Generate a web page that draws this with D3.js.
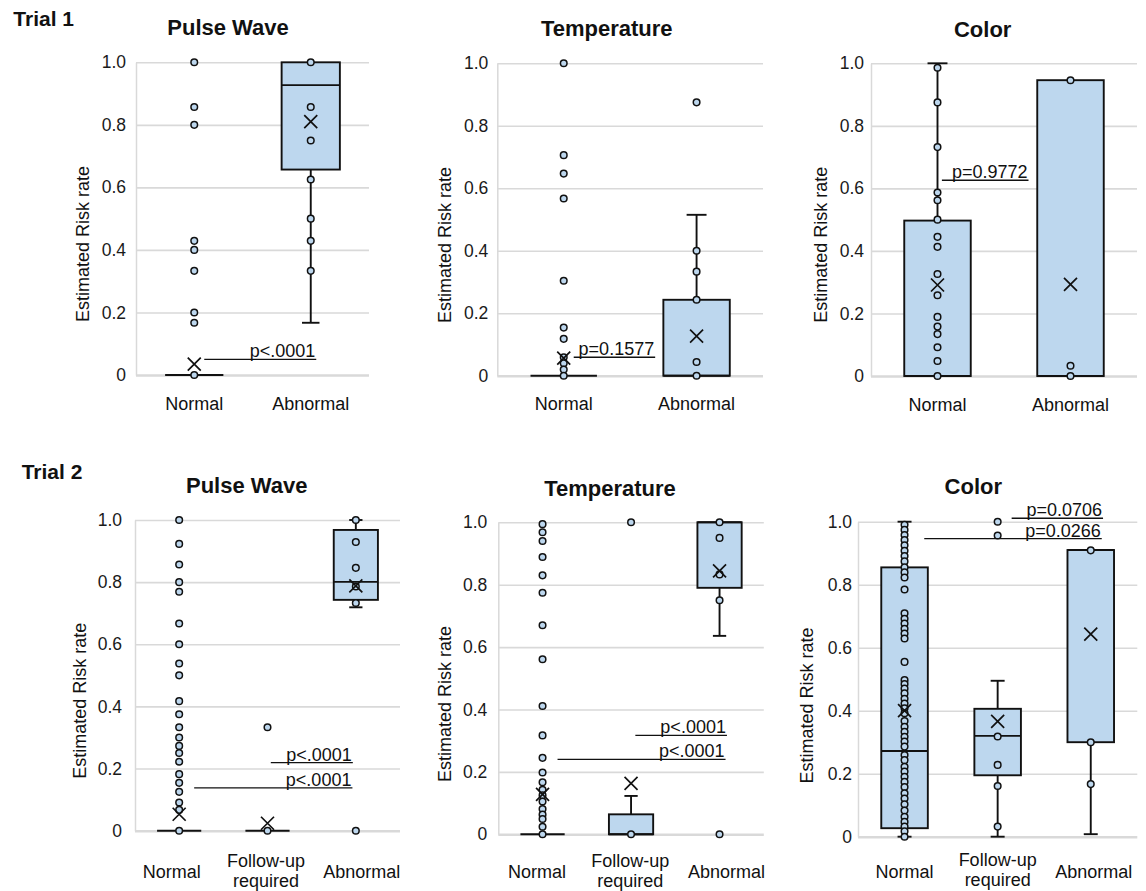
<!DOCTYPE html>
<html><head><meta charset="utf-8">
<script src="https://cdn.jsdelivr.net/npm/d3@7"></script>
<style>
html,body{margin:0;padding:0;background:#fff;}
svg{display:block;font-family:"Liberation Sans",Arial,Helvetica,sans-serif;}
</style></head><body>
<svg id="chart" width="1146" height="891"></svg>
<script>
// ---------- DATA ----------
const trialLabels = ["Trial 1", "Trial 2"];
const panelTitles = ["Pulse Wave", "Temperature", "Color"];
const categoriesTrial1 = ["Normal", "Abnormal"];
const categoriesTrial2 = ["Normal", "Follow-up required", "Abnormal"];
const tickValues = [0, 0.2, 0.4, 0.6, 0.8, 1.0];
const tickLabels = ["0", "0.2", "0.4", "0.6", "0.8", "1.0"];
const yAxisTitle = "Estimated Risk rate";

// individual observations
const t1PulseNormal = [1.0, 0.857, 0.8, 0.429, 0.4, 0.333, 0.2, 0.167, 0];
const t1PulseAbnormal = [1.0, 0.857, 0.75, 0.625, 0.5, 0.429, 0.333];
const t1TempNormal = [1.0, 0.706, 0.647, 0.567, 0.304, 0.154, 0.118, 0.059, 0.04, 0.02, 0];
const t1TempAbnormal = [0.875, 0.4, 0.333, 0.243, 0.044, 0];
const t1ColorNormal = [0.986, 0.875, 0.732, 0.587, 0.562, 0.5, 0.445, 0.413, 0.326, 0.258, 0.189, 0.158, 0.134, 0.092, 0.048, 0];
const t1ColorAbnormal = [0.946, 0.033, 0];

const t2PulseNormal = [1.0, 0.923, 0.857, 0.8, 0.769, 0.667, 0.6, 0.538, 0.5, 0.417, 0.375, 0.333, 0.3, 0.273, 0.25, 0.222, 0.182, 0.154, 0.125, 0.091, 0.067, 0];
const t2PulseFollow = [0.333, 0];
const t2PulseAbnormal = [1.0, 0.929, 0.846, 0.786, 0.733, 0];
const t2TempNormal = [0.994, 0.968, 0.94, 0.889, 0.83, 0.774, 0.67, 0.561, 0.411, 0.317, 0.245, 0.198, 0.167, 0.143, 0.125, 0.105, 0.081, 0.063, 0.049, 0.024, 0];
const t2TempFollow = [1.0, 0];
const t2TempAbnormal = [1.0, 0.95, 0.833, 0.75, 0];
const t2ColorNormal = [0.99, 0.974, 0.958, 0.942, 0.925, 0.908, 0.891, 0.874, 0.855, 0.839, 0.823, 0.785, 0.709, 0.692, 0.677, 0.66, 0.645, 0.629, 0.555, 0.497, 0.485, 0.47, 0.455, 0.438, 0.423, 0.408, 0.392, 0.367, 0.349, 0.333, 0.317, 0.302, 0.286, 0.259, 0.243, 0.222, 0.207, 0.19, 0.174, 0.158, 0.138, 0.121, 0.103, 0.083, 0.063, 0.047, 0.032, 0.017, 0];
const t2ColorFollow = [1.0, 0.956, 0.318, 0.228, 0.161, 0.032];
const t2ColorAbnormal = [0.909, 0.3, 0.167];

// box statistics: [q1, median, q3, whiskerLow, whiskerHigh, mean]
const t1PulseStats = [[0, 0, 0, 0, 0, 0.035], [0.657, 0.927, 1.0, 0.167, 1.0, 0.81]];
const t1TempStats = [[0, 0, 0, 0, 0, 0.056], [0, 0, 0.243, 0, 0.515, 0.127]];
const t1ColorStats = [[0, 0, 0.497, 0, 1.0, 0.291], [0, 0, 0.946, 0, 0.946, 0.293]];
const t2PulseStats = [[0, 0, 0, 0, 0, 0.053], [0, 0, 0, 0, 0, 0.024], [0.743, 0.801, 0.968, 0.719, 1.0, 0.788]];
const t2TempStats = [[0, 0, 0, 0, 0, 0.128], [0, 0, 0.064, 0, 0.123, 0.163], [0.79, 1.0, 1.0, 0.636, 1.0, 0.844]];
const t2ColorStats = [[0.027, 0.272, 0.855, 0, 1.0, 0.4], [0.195, 0.32, 0.406, 0, 0.495, 0.366], [0.3, 0.91, 0.91, 0.008, 0.91, 0.643]];

// p-value annotations
const t1PulseP = [{from: "Normal", to: "Abnormal", value: 0.05, label: "p<.0001"}];
const t1TempP = [{from: "Normal", to: "Abnormal", value: 0.059, label: "p=0.1577"}];
const t1ColorP = [{from: "Normal", to: "Abnormal", value: 0.626, label: "p=0.9772"}];
const t2PulseP = [{from: "Follow-up required", to: "Abnormal", value: 0.219, label: "p<.0001"},
                  {from: "Normal", to: "Abnormal", value: 0.138, label: "p<.0001"}];
const t2TempP = [{from: "Follow-up required", to: "Abnormal", value: 0.317, label: "p<.0001"},
                 {from: "Normal", to: "Abnormal", value: 0.24, label: "p<.0001"}];
const t2ColorP = [{from: "Follow-up required", to: "Abnormal", value: 1.011, label: "p=0.0706"},
                  {from: "Normal", to: "Abnormal", value: 0.946, label: "p=0.0266"}];

const panelsData = [
  {title: 0, cats: categoriesTrial1, points: [t1PulseNormal, t1PulseAbnormal], stats: t1PulseStats, ann: t1PulseP},
  {title: 1, cats: categoriesTrial1, points: [t1TempNormal, t1TempAbnormal], stats: t1TempStats, ann: t1TempP},
  {title: 2, cats: categoriesTrial1, points: [t1ColorNormal, t1ColorAbnormal], stats: t1ColorStats, ann: t1ColorP},
  {title: 0, cats: categoriesTrial2, points: [t2PulseNormal, t2PulseFollow, t2PulseAbnormal], stats: t2PulseStats, ann: t2PulseP},
  {title: 1, cats: categoriesTrial2, points: [t2TempNormal, t2TempFollow, t2TempAbnormal], stats: t2TempStats, ann: t2TempP},
  {title: 2, cats: categoriesTrial2, points: [t2ColorNormal, t2ColorFollow, t2ColorAbnormal], stats: t2ColorStats, ann: t2ColorP}
];

// ---------- LAYOUT ----------
const layout = [
  {x0:136, x1:369, yT:62.3, yB:375, tickGap:10, titleX:228, titleY:35, axX:89, axY:244, catY:409.5, labelDx:[0,0], annDx:[[10,5.5]]},
  {x0:497.3, x1:763, yT:63.3, yB:375.7, tickGap:9, titleX:606.7, titleY:36, axX:451, axY:245, catY:409.5, labelDx:[0,0], annDx:[[10,-41.4]]},
  {x0:871, x1:1137, yT:63.3, yB:376, tickGap:7, titleX:982.7, titleY:37, axX:826.7, axY:244.7, catY:410.7, labelDx:[0,0], annDx:[[4.4,-42]]},
  {x0:135, x1:400, yT:520, yB:830.7, tickGap:13, titleX:246.7, titleY:492.7, axX:86, axY:700.8, catY:878.3, labelDx:[-7.5,-1.5,6], annDx:[[3.3,-3],[15,-3.4]]},
  {x0:498.3, x1:763.8, yT:522.3, yB:834.3, tickGap:11, titleX:610, titleY:496, axX:451, axY:704, catY:878.3, labelDx:[-5.6,-0.7,7], annDx:[[4.3,7.4],[15,6]]},
  {x0:858, x1:1137.3, yT:521.7, yB:836.7, tickGap:6, titleX:973.3, titleY:494.3, axX:812.7, axY:705.5, catY:877.5, labelDx:[0,0,3], annDx:[[14,12.3],[19.7,11]]}
];
const trialPos = [{x:13.3, y:26}, {x:21.7, y:479.3}];

const FILL = "#bdd7ee", INK = "#111", GRID = "#d9d9d9";
const svg = d3.select("#chart");

trialLabels.forEach((t, i) => {
  svg.append("text").attr("x", trialPos[i].x).attr("y", trialPos[i].y)
    .attr("font-size", 21).attr("font-weight", "bold").attr("fill", INK).text(t);
});

panelsData.forEach((p, i) => {
  const L = layout[i];
  const g = svg.append("g");
  const x = d3.scaleBand().domain(p.cats).range([L.x0, L.x1]).padding(0);
  const y = d3.scaleLinear().domain([0, 1]).range([L.yB, L.yT]);
  const bw = x.bandwidth();
  const boxW = bw * 0.5, capW = bw * 0.15;
  const cxOf = c => x(c) + bw / 2;

  // y axis + grid
  const yAxis = d3.axisLeft(y).tickValues(tickValues).tickFormat((d, j) => tickLabels[j])
    .tickSize(-(L.x1 - L.x0)).tickSizeOuter(0).tickPadding(L.tickGap);
  const ag = g.append("g").attr("transform", `translate(${L.x0},0)`).call(yAxis);
  ag.attr("font-size", 17.5).attr("font-family", null).attr("color", INK);
  ag.select(".domain").attr("stroke", GRID).attr("stroke-width", 1.5);
  ag.selectAll(".tick line").attr("stroke", GRID).attr("stroke-width", d => d === 0 ? 2.5 : 1.6);
  ag.selectAll(".tick text").attr("fill", "#1a1a1a");

  // titles
  g.append("text").attr("x", L.titleX).attr("y", L.titleY).attr("text-anchor", "middle")
    .attr("font-size", 22).attr("font-weight", "bold").attr("fill", INK).text(panelTitles[p.title]);
  g.append("text").attr("transform", `translate(${L.axX},${L.axY}) rotate(-90)`)
    .attr("text-anchor", "middle").attr("font-size", 18).attr("fill", INK).text(yAxisTitle);

  // category labels
  p.cats.forEach((c, k) => {
    const lines = c === "Follow-up required" ? ["Follow-up", "required"] : [c];
    const t = g.append("text").attr("text-anchor", "middle").attr("font-size", 18).attr("fill", INK);
    if (lines.length === 1) {
      t.attr("x", cxOf(c) + L.labelDx[k]).attr("y", L.catY).text(c);
    } else {
      lines.forEach((ln, li) => {
        t.append("tspan").attr("x", cxOf(c) + L.labelDx[k]).attr("y", L.catY - 11.3 + li * 19.7).text(ln);
      });
    }
  });

  // boxes
  p.cats.forEach((c, k) => {
    const [q1, med, q3, wl, wh, mean] = p.stats[k];
    const cx = cxOf(c);
    const bg = g.append("g");
    if (wh > q3) {
      bg.append("line").attr("x1", cx).attr("x2", cx).attr("y1", y(q3)).attr("y2", y(wh))
        .attr("stroke", INK).attr("stroke-width", 1.9);
      bg.append("line").attr("x1", cx - capW / 2).attr("x2", cx + capW / 2).attr("y1", y(wh)).attr("y2", y(wh))
        .attr("stroke", INK).attr("stroke-width", 1.9);
    }
    if (wl < q1) {
      bg.append("line").attr("x1", cx).attr("x2", cx).attr("y1", y(q1)).attr("y2", y(wl))
        .attr("stroke", INK).attr("stroke-width", 1.9);
      bg.append("line").attr("x1", cx - capW / 2).attr("x2", cx + capW / 2).attr("y1", y(wl)).attr("y2", y(wl))
        .attr("stroke", INK).attr("stroke-width", 1.9);
    }
    bg.append("rect").attr("x", cx - boxW / 2).attr("y", y(q3)).attr("width", boxW)
      .attr("height", Math.max(0, y(q1) - y(q3))).attr("fill", FILL)
      .attr("stroke", INK).attr("stroke-width", 1.9);
    bg.append("line").attr("x1", cx - boxW / 2).attr("x2", cx + boxW / 2).attr("y1", y(med)).attr("y2", y(med))
      .attr("stroke", INK).attr("stroke-width", 1.9);
    // points
    bg.selectAll("circle").data(p.points[k]).join("circle")
      .attr("cx", cx).attr("cy", d => y(d)).attr("r", 3.3)
      .attr("fill", FILL).attr("stroke", INK).attr("stroke-width", 1.5);
    // mean marker
    const s = 6.5, my = y(mean);
    bg.append("path").attr("d", `M${cx - s},${my - s}L${cx + s},${my + s}M${cx - s},${my + s}L${cx + s},${my - s}`)
      .attr("stroke", INK).attr("stroke-width", 1.7).attr("fill", "none");
  });

  // p-value annotations
  p.ann.forEach((a, k) => {
    const [d1, d2] = L.annDx[k];
    const xa = cxOf(a.from) + d1, xb = cxOf(a.to) + d2, ya = y(a.value);
    g.append("line").attr("x1", xa).attr("x2", xb).attr("y1", ya).attr("y2", ya)
      .attr("stroke", INK).attr("stroke-width", 1.3);
    g.append("text").attr("x", xb - 1).attr("y", ya - 2).attr("text-anchor", "end")
      .attr("font-size", 18).attr("fill", INK).text(a.label);
  });
});
</script>
</body></html>
